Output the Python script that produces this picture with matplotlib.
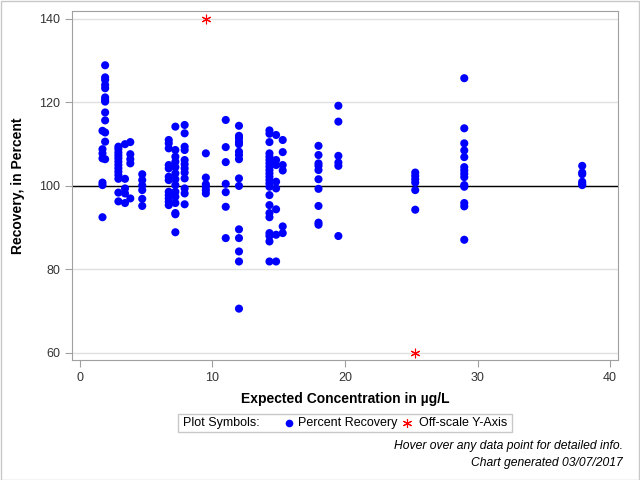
import matplotlib.pyplot as plt
from matplotlib.lines import Line2D
from matplotlib.patches import Rectangle

plt.rcParams['font.family'] = ['Liberation Sans', 'DejaVu Sans']

# expected concentration (ug/L) -> percent recovery values
conc = {
    1.7: [113.2, 108.8, 107.8, 106.6, 100.8, 100.2, 92.5],
    1.9: [128.9, 126.0, 125.4, 124.2, 123.4, 121.2, 120.6, 120.2, 117.6, 115.7,
          112.8, 110.6, 106.4],
    2.9: [109.4, 108.8, 108.0, 107.3, 106.6, 105.8, 105.0, 104.2, 103.4, 102.6,
          101.7, 98.4, 96.3],
    3.4: [110.0, 101.7, 99.4, 98.2, 95.9],
    3.8: [110.5, 107.6, 106.4, 105.4, 97.0],
    4.7: [102.8, 101.4, 100.1, 99.0, 96.9, 95.2],
    6.7: [111.0, 110.2, 109.0, 105.0, 104.2, 102.2, 101.4, 98.6, 97.8, 97.0,
          96.2, 95.4],
    7.2: [114.2, 108.6, 107.0, 105.8, 104.5, 103.0, 101.6, 100.2, 98.6, 97.4,
          95.9, 93.5, 93.2, 88.9],
    7.9: [114.6, 112.6, 109.4, 108.6, 106.2, 105.2, 104.2, 103.2, 101.8, 99.4,
          98.2, 95.6],
    9.5: [107.8, 102.0, 100.4, 99.8, 99.0, 98.2],
    11.0: [115.8, 109.3, 105.7, 100.5, 98.5, 95.0, 87.5],
    12.0: [114.4, 112.0, 111.4, 110.6, 110.0, 108.2, 107.4, 106.4, 101.8, 100.0,
           89.6, 87.5, 84.3, 81.9, 70.6],
    14.3: [113.3, 112.5, 110.5, 107.8, 107.0, 106.2, 105.4, 104.6, 103.8, 103.0,
           102.2, 101.4, 100.6, 99.8, 97.8, 95.4, 93.5, 92.5, 88.7, 88.0, 86.7, 81.9],
    14.8: [112.2, 106.2, 105.0, 101.0, 99.4, 94.4, 88.3, 81.9],
    15.3: [111.0, 108.1, 105.0, 103.7, 90.3, 88.7],
    18.0: [109.6, 107.4, 105.4, 104.8, 103.8, 101.6, 99.3, 95.2, 91.2, 90.7],
    19.5: [119.2, 115.4, 107.2, 105.6, 104.8, 88.0],
    25.3: [103.2, 102.4, 101.6, 100.8, 99.0, 94.3],
    29.0: [125.8, 113.8, 110.2, 108.5, 106.9, 104.5, 103.7, 102.9, 102.1, 100.2,
           99.8, 95.9, 95.1, 87.1],
    37.9: [104.8, 103.2, 102.8, 101.0, 100.5, 100.2],
}
off_x = [9.5, 25.3]
off_y = [140, 60]

xs, ys = [], []
for c, vals in conc.items():
    xs += [c] * len(vals)
    ys += vals

fig = plt.figure(figsize=(6.4, 4.8), dpi=100)
ax = fig.add_axes([72/640, 120/480, 546/640, 349/480])

ax.set_xlim(-0.6, 40.6)
ax.set_ylim(58.3, 141.9)
ax.set_yticks([60, 80, 100, 120, 140])
ax.set_xticks([0, 10, 20, 30, 40])
ax.grid(axis='y', color='#e0e0e0', lw=1)
ax.set_axisbelow(True)
ax.axhline(100, color='black', lw=1, zorder=1)

ax.scatter(xs, ys, s=34, color='blue', edgecolors='none', zorder=3)
ax.scatter(off_x, off_y, s=40, color='red', marker=(6, 2, 0), lw=0.8, zorder=3)

for s in ax.spines.values():
    s.set_color('#a0a0a0')
ax.tick_params(colors='#a0a0a0', labelcolor='#333333', labelsize=9, length=5)
ax.set_xlabel('Expected Concentration in µg/L', fontsize=10, fontweight='bold', labelpad=6)
ax.set_ylabel('Recovery, in Percent', fontsize=10, fontweight='bold', labelpad=10)

# legend box
fig.add_artist(Rectangle((178/640, 48/480), 334/640, 18/480, transform=fig.transFigure,
                         facecolor='white', edgecolor='#c8c8c8', lw=1))
fig.text(183/640, 57/480, 'Plot Symbols:', fontsize=9, va='center')
fig.add_artist(Line2D([289/640], [57/480], transform=fig.transFigure, marker='o',
                      ms=5.5, color='blue', mec='none'))
fig.text(298/640, 57/480, 'Percent Recovery', fontsize=9, va='center')
fig.add_artist(Line2D([407/640], [57/480], transform=fig.transFigure, marker=(6, 2, 0),
                      ms=6.5, color='red', lw=0, mew=0.8))
fig.text(419/640, 57/480, 'Off-scale Y-Axis', fontsize=9, va='center')

fig.text(623/640, 34/480, 'Hover over any data point for detailed info.', fontsize=8.7,
         style='italic', ha='right', va='center')
fig.text(623/640, 17/480, 'Chart generated 03/07/2017', fontsize=8.7,
         style='italic', ha='right', va='center')

fig.add_artist(Rectangle((0.5/640, 0.5/480), 638.5/640, 478.5/480, transform=fig.transFigure,
                         facecolor='none', edgecolor='#c8c8c8', lw=1))

fig.savefig('out.png', dpi=100)
